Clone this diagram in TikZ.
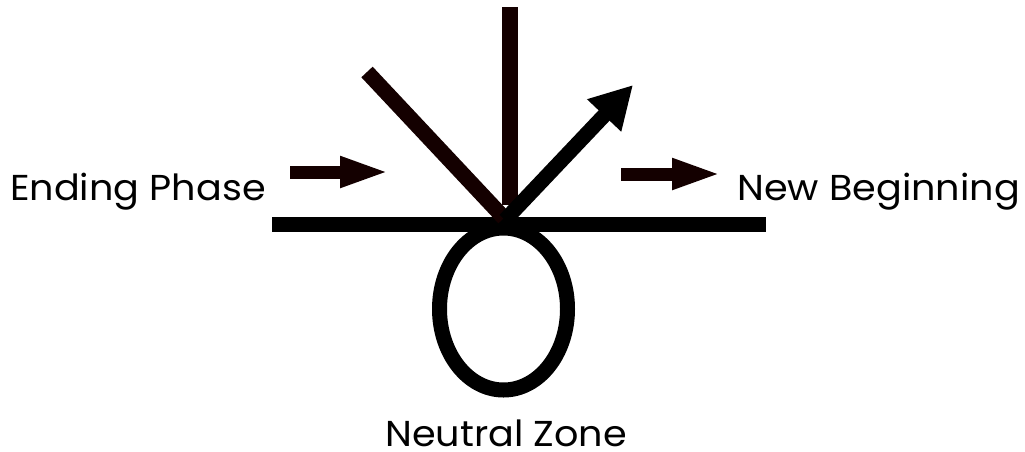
\documentclass[tikz,border=0pt]{standalone}
\usepackage{fontspec}
\setmainfont{Poppins}[FakeStretch=1.06]
\usetikzlibrary{arrows.meta}
\definecolor{darkbrown}{HTML}{140000}
\begin{document}
\begin{tikzpicture}[x=1pt,y=-1pt,
  bar/.style={line width=15.5pt, line cap=butt},
  smallarrow/.style={darkbrown, line width=13pt, -{Triangle[length=50pt,width=28pt]}},
  label/.style={font=\fontsize{36}{40}\selectfont, inner sep=0pt, anchor=base west}]
\useasboundingbox (0,0) rectangle (1025,451);
\coordinate (hl) at (272,224.5);
\coordinate (hr) at (766,224.5);
\coordinate (c) at (504,218);
\coordinate (vtop) at (510,7);
\coordinate (vbot) at (510,205);
\coordinate (dtop) at (367,72);
\coordinate (atip) at (633,85);
\coordinate (astart) at (505,220);
\coordinate (l1) at (290,172);
\coordinate (l2) at (390,172);
\coordinate (r1) at (621,174);
\coordinate (r2) at (722,174);
\node[label] (ending) at (10,200) {Ending Phase};
\node[label] (newb) at (737,200) {New Beginning};
\node[label] (neutral) at (385,446) {Neutral Zone};
% loop
\draw[line width=15pt] (503.5,309) ellipse [x radius=64pt, y radius=81pt];
% horizontal line
\draw[bar, black] (hl) -- (hr);
% vertical and diagonal
\draw[bar, darkbrown] (vtop) -- (vbot);
\draw[bar, darkbrown] (dtop) -- (c);
% big arrow
\draw[line width=15pt, black, -{Triangle[length=42pt,width=44pt]}] (astart) -- (atip);
% small arrows
\draw[smallarrow] (l1) -- (l2);
\draw[smallarrow] (r1) -- (r2);
\end{tikzpicture}
\end{document}
